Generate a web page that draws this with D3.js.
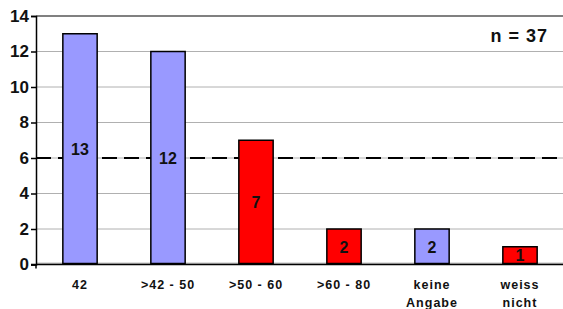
<!DOCTYPE html>
<html><head><meta charset="utf-8">
<script src="https://cdn.jsdelivr.net/npm/d3@7"></script>
<style>body{margin:0;background:#fff}svg{display:block;font-family:"Liberation Sans",Arial,sans-serif}</style>
</head><body><svg id="c" width="563" height="309"></svg>
<script>
const categories = [["42"], [">42 - 50"], [">50 - 60"], [">60 - 80"], ["keine","Angabe"], ["weiss","nicht"]];
const values = [13, 12, 7, 2, 2, 1];
const colors = ["#9999FF", "#9999FF", "#FF0000", "#FF0000", "#9999FF", "#FF0000"];
const yTicks = [0, 2, 4, 6, 8, 10, 12, 14];
const refLine = 6;
const note = "n = 37";

const svg = d3.select("#c");
const pLeft = 36, pRight = 564, pTop = 16, pBottom = 264.5;
const x = d3.scaleBand().domain(d3.range(values.length)).range([pLeft, pRight]).paddingInner(0.61).paddingOuter(0.305);
const y = d3.scaleLinear().domain([0, 14]).range([pBottom, pTop]);

// gridlines
svg.append("g").selectAll("line").data(yTicks.filter(t => t > 0 && t < 14)).join("line")
  .attr("x1", pLeft).attr("x2", 563).attr("y1", d => y(d)).attr("y2", d => y(d))
  .attr("stroke", "#b0b0b0").attr("stroke-width", 1);
// top border
svg.append("line").attr("x1", pLeft).attr("x2", 563).attr("y1", y(14)).attr("y2", y(14))
  .attr("stroke", "#808080").attr("stroke-width", 2);
// reference line
svg.append("line").attr("x1", pLeft).attr("x2", 563).attr("y1", y(refLine)).attr("y2", y(refLine))
  .attr("stroke", "#000").attr("stroke-width", 2).attr("stroke-dasharray", "15,7");
// floor
svg.append("rect").attr("x", pLeft).attr("y", pBottom - 2).attr("width", 563 - pLeft).attr("height", 2).attr("fill", "#c0c0c0");

// bars
svg.append("g").selectAll("rect").data(values).join("rect")
  .attr("x", (d, i) => x(i)).attr("width", x.bandwidth())
  .attr("y", d => y(d)).attr("height", d => y(0) - y(d) - 1)
  .attr("fill", (d, i) => colors[i]).attr("stroke", "#000").attr("stroke-width", 1.5);

// value labels
svg.append("g").selectAll("text").data(values).join("text")
  .attr("x", (d, i) => x(i) + x.bandwidth() / 2)
  .attr("y", d => (y(d) + y(0)) / 2)
  .attr("dy", "0.36em").attr("text-anchor", "middle")
  .attr("font-size", 16).attr("font-weight", "bold").attr("fill", "#111")
  .text(d => d);

// y axis
const ya = svg.append("g").attr("transform", `translate(${pLeft},0)`)
  .call(d3.axisLeft(y).tickValues(yTicks).tickSize(5).tickPadding(2));
ya.select(".domain").attr("stroke", "#000").attr("stroke-width", 1.5);
ya.selectAll(".tick line").attr("stroke", "#000").attr("stroke-width", 1.5);
ya.selectAll(".tick text").attr("font-size", 17).attr("font-weight", "bold").attr("fill", "#111")
  .attr("font-family", "Liberation Sans, Arial, sans-serif");

// x axis line
svg.append("line").attr("x1", pLeft - 5).attr("x2", 563).attr("y1", pBottom).attr("y2", pBottom)
  .attr("stroke", "#000").attr("stroke-width", 1.5);
svg.append("line").attr("x1", pLeft).attr("x2", pLeft).attr("y1", pBottom).attr("y2", pBottom + 4)
  .attr("stroke", "#000").attr("stroke-width", 1.5);

// x labels
const xl = svg.append("g").selectAll("text").data(categories).join("text")
  .attr("text-anchor", "middle").attr("font-size", 12.5).attr("font-weight", "bold").attr("fill", "#111")
  .attr("letter-spacing", "1px");
xl.selectAll("tspan").data((d, i) => d.map(s => ({s, i}))).join("tspan")
  .attr("x", d => x(d.i) + x.bandwidth() / 2)
  .attr("y", (d, j) => 289 + j * 18)
  .text(d => d.s);

// note
svg.append("text").attr("x", 548).attr("y", 42).attr("text-anchor", "end")
  .attr("font-size", 18).attr("font-weight", "bold").attr("fill", "#111")
  .attr("letter-spacing", "1px").text(note);
</script></body></html>
